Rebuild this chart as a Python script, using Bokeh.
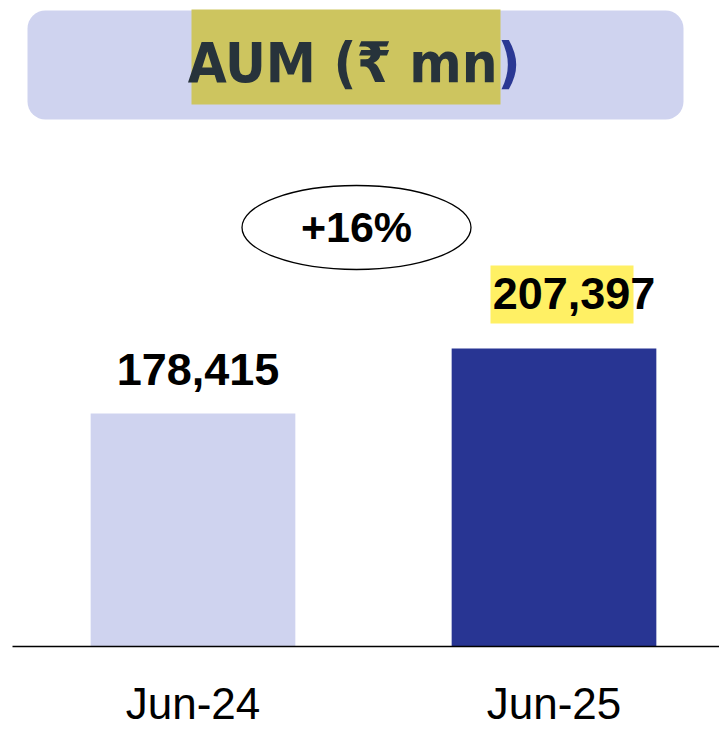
from bokeh.plotting import figure
from bokeh.models import Range1d, FixedTicker, BoxAnnotation
from bokeh.core.properties import value
from bokeh.embed import file_html
from bokeh.resources import INLINE

# ---- data ----
categories = ["Jun-24", "Jun-25"]
aum_values = [178415, 207397]
title_main = "AUM (₹ mn"
title_end = ")"
bar_colors = ["#cfd3ef", "#283593"]

# ---- layout (page pixels) ----
W, H = 719, 732
ML, MB = 12, 86
frame_w = W - ML
frame_h = H - MB          # axis line at y = 646
PX_PER_CAT = 361.0
Y0 = 74525.0
UPP = 445.88              # data units per pixel
Y1 = Y0 + frame_h * UPP
X_END = frame_w / PX_PER_CAT
BASE_K = 0.34             # svg text baseline correction (fraction of font size)


def dx(ix):
    return (ix - ML) / PX_PER_CAT


def dy(iy):
    return Y0 + (frame_h - iy) * UPP


def ty(iy, fs):
    return dy(iy - BASE_K * fs)


p = figure(width=W, height=H, x_range=Range1d(0, X_END), y_range=Range1d(Y0, Y1),
           output_backend="svg", toolbar_location=None,
           min_border_left=ML, min_border_right=0, min_border_top=0, min_border_bottom=MB)
p.outline_line_color = None
p.grid.visible = False
p.yaxis.visible = False
p.background_fill_color = "white"
p.border_fill_color = "white"

xs = [i + 0.5 for i in range(len(categories))]

# title box and highlight
p.add_layout(BoxAnnotation(left=dx(27), right=dx(683), top=dy(10), bottom=dy(119),
                           fill_color="#cfd3ef", fill_alpha=1, line_color=None,
                           border_radius=18, level="underlay"))
p.add_layout(BoxAnnotation(left=dx(191), right=dx(500), top=dy(9), bottom=dy(104),
                           fill_color="#cdc55f", fill_alpha=1, line_color=None,
                           level="underlay"))
# text highlight mark
p.add_layout(BoxAnnotation(left=dx(490), right=dx(633), top=dy(265), bottom=dy(323),
                           fill_color="#fff064", fill_alpha=1, line_color=None,
                           level="underlay"))

TFS = 56
p.text(x=[dx(497)], y=[ty(81, TFS)], text=[title_main], text_font=value("DejaVu Sans Condensed"),
       text_font_style="bold", text_font_size=f"{TFS}px", text_color="#27333b",
       text_align="right", text_baseline="alphabetic")
p.text(x=[dx(497)], y=[ty(81, TFS)], text=[title_end], text_font=value("DejaVu Sans Condensed"),
       text_font_style="bold", text_font_size=f"{TFS}px", text_color="#2b3894",
       text_align="left", text_baseline="alphabetic")

# bars
p.vbar(x=xs, top=aum_values, bottom=Y0, width=0.567, fill_color=bar_colors,
       line_color=None)

# value labels
VFS = 45
lab_dx = [5, 20]
lab_dy = [29, 40]
p.text(x=[xs[i] + lab_dx[i] / PX_PER_CAT for i in range(len(xs))],
       y=[aum_values[i] + (lab_dy[i] + BASE_K * VFS) * UPP for i in range(len(xs))],
       text=[f"{v:,}" for v in aum_values], text_font=value("Liberation Sans"),
       text_font_style="bold", text_font_size=f"{VFS}px", text_color="black",
       text_align="center", text_baseline="alphabetic")

# growth ellipse
growth = (aum_values[1] / aum_values[0] - 1) * 100
p.ellipse(x=[dx(356)], y=[dy(227)], width=229, height=84,
          width_units="screen", height_units="screen",
          fill_color="white", line_color="black", line_width=1.3)
GFS = 43
p.text(x=[dx(356)], y=[ty(241, GFS)], text=[f"+{growth:.0f}%"],
       text_font=value("Liberation Sans"), text_font_style="bold",
       text_font_size=f"{GFS}px", text_color="black", text_align="center",
       text_baseline="alphabetic")

# axis
ax = p.xaxis[0]
ax.ticker = FixedTicker(ticks=xs)
ax.major_label_overrides = {x: c for x, c in zip(xs, categories)}
ax.axis_line_color = "black"
ax.axis_line_width = 1.5
ax.major_tick_line_color = None
ax.minor_tick_line_color = None
ax.major_tick_out = 0
ax.major_label_standoff = 32
ax.major_label_text_font = "Liberation Sans"
ax.major_label_text_font_size = "44px"
ax.major_label_text_color = "black"

open("out.html", "w").write(file_html(p, INLINE))
